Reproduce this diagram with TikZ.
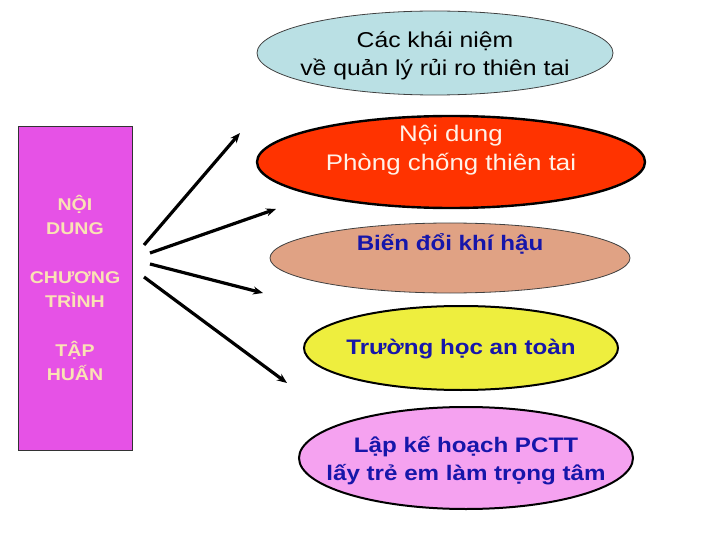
\documentclass[tikz,border=0pt]{standalone}
\usepackage{fontspec}
\setmainfont[FakeStretch=1.15]{Liberation Sans}
\usetikzlibrary{shapes.geometric,arrows.meta}
\definecolor{rectfill}{RGB}{230,82,230}
\definecolor{cream}{RGB}{250,226,180}
\definecolor{skyfill}{RGB}{186,224,228}
\definecolor{redfill}{RGB}{255,51,0}
\definecolor{salmonfill}{RGB}{224,162,132}
\definecolor{yellowfill}{RGB}{238,238,62}
\definecolor{pinkfill}{RGB}{245,162,240}
\definecolor{bluetxt}{RGB}{22,22,170}
\definecolor{redtxt}{RGB}{255,242,232}
\tikzset{
  oval/.style={ellipse, inner sep=0pt, outer sep=0pt},
  thinborder/.style={draw=black!75, line width=0.8pt},
  thickborder/.style={draw=black, line width=2.4pt},
  midborder/.style={draw=black, line width=2pt},
  bluelabel/.style={text=bluetxt, align=center, font=\bfseries\fontsize{21}{28}\selectfont, inner sep=0pt},
  arr/.style={line width=3.2pt, -{Stealth[length=10pt,width=8pt]}}
}
\begin{document}
\begin{tikzpicture}[x=1pt,y=-1pt]
\useasboundingbox (0,0) rectangle (720,540);
% left box
\node[draw=black!80, line width=0.8pt, fill=rectfill, minimum width=114pt, minimum height=324pt, inner sep=0pt] (box) at (75,288) {};
\node[text=cream, align=center, font=\bfseries\fontsize{17}{24.3}\selectfont, inner sep=0pt] (boxtxt) at (75,288) {NỘI\\DUNG\\[24.3pt]CHƯƠNG\\TRÌNH\\[24.3pt]TẬP\\HUẤN};
% ellipses
\node[oval, thinborder, fill=skyfill, minimum width=356pt, minimum height=84pt] (e1) at (435,53) {};
\node[text=black, align=center, font=\fontsize{21.5}{28}\selectfont, inner sep=0pt] (t1) at (435,56) {Các khái niệm\\về quản lý rủi ro thiên tai};
\node[oval, thickborder, fill=redfill, minimum width=388pt, minimum height=92pt] (e2) at (451,162) {};
\node[text=redtxt, align=center, font=\fontsize{22.5}{29}\selectfont, inner sep=0pt] (t2) at (451,150) {Nội dung\\Phòng chống thiên tai};
\node[oval, thinborder, fill=salmonfill, minimum width=360pt, minimum height=70pt] (e3) at (450,258) {};
\node[bluelabel] (t3) at (450,244) {Biến đổi khí hậu};
\node[oval, midborder, fill=yellowfill, minimum width=314pt, minimum height=84pt] (e4) at (461,348) {};
\node[bluelabel] (t4) at (461,349) {Trường học an toàn};
\node[oval, midborder, fill=pinkfill, minimum width=334pt, minimum height=102pt] (e5) at (466,458) {};
\node[bluelabel] (t5) at (466,461) {Lập kế hoạch PCTT\\lấy trẻ em làm trọng tâm};
% arrows
\coordinate (s1) at (144,245); \coordinate (d1) at (240,133);
\coordinate (s2) at (150,253); \coordinate (d2) at (276,209);
\coordinate (s3) at (150,264); \coordinate (d3) at (263,293);
\coordinate (s4) at (144,277); \coordinate (d4) at (287,383);
\draw[arr] (s1) -- (d1);
\draw[arr] (s2) -- (d2);
\draw[arr] (s3) -- (d3);
\draw[arr] (s4) -- (d4);
\end{tikzpicture}
\end{document}
